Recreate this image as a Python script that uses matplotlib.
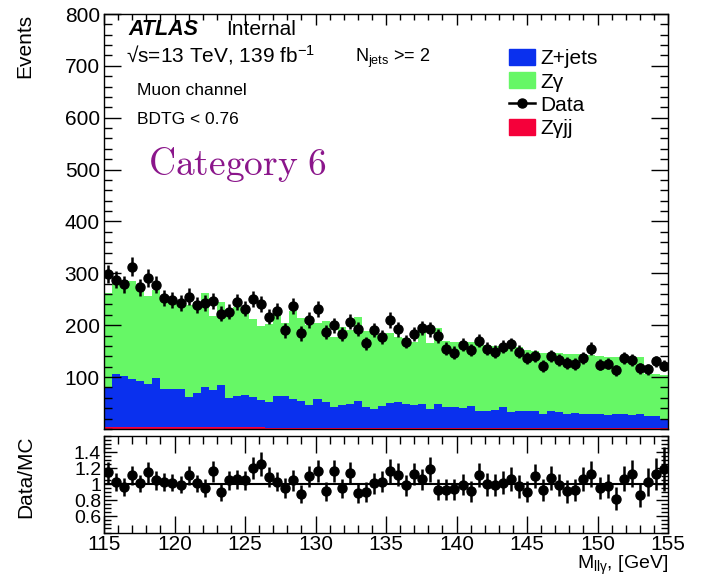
import numpy as np
import matplotlib
matplotlib.use("Agg")
import matplotlib.pyplot as plt
from matplotlib.ticker import MultipleLocator, FixedLocator, FixedFormatter
from matplotlib.patches import Patch
from matplotlib.lines import Line2D

plt.rcParams['font.family'] = ['Liberation Sans', 'DejaVu Sans']
plt.rcParams['mathtext.fontset'] = 'custom'
plt.rcParams['mathtext.rm'] = 'Liberation Sans'
plt.rcParams['mathtext.it'] = 'Liberation Sans:italic'
plt.rcParams['mathtext.bf'] = 'Liberation Sans:bold'

# ---------------- data ----------------
x_min, x_max, n_bins = 115.0, 155.0, 70

data = [298, 288, 279, 313, 273, 291, 278, 252, 249, 242,
        255, 239, 243, 247, 222, 226, 245, 232, 250, 240,
        216, 227, 190, 237, 184, 210, 231, 187, 200, 183,
        207, 193, 165, 191, 177, 210, 192, 168, 183, 195,
        192, 179, 155, 147, 162, 152, 170, 155, 149, 158,
        163, 149, 137, 141, 121, 141, 132, 127, 125, 136,
        155, 124, 126, 113, 137, 132, 117, 115, 130, 122]

total_mc = [262, 283, 288, 285, 278, 257, 268, 250, 248, 247,
            238, 245, 262, 218, 245, 222, 235, 228, 212, 198,
            203, 222, 205, 228, 214, 200, 204, 208, 177, 196,
            190, 215, 188, 192, 180, 184, 178, 176, 168, 192,
            166, 194, 170, 168, 168, 168, 165, 162, 160, 160,
            160, 158, 153, 150, 147, 147, 146, 144, 144, 144,
            142, 140, 139, 139, 139, 139, 138, 105, 105, 103]

zjets = [75, 102, 99, 94, 89, 83, 96, 74, 74, 74,
         58, 67, 77, 72, 81, 57, 61, 63, 59, 52,
         49, 61, 61, 56, 52, 43, 56, 49, 40, 43,
         46, 52, 40, 35, 42, 48, 49, 46, 44, 46,
         36, 46, 40, 40, 38, 42, 33, 33, 34, 41,
         30, 33, 32, 32, 27, 33, 30, 27, 28, 26,
         27, 26, 25, 27, 27, 25, 27, 22, 22, 17]

zgjj = [3, 3, 3, 3, 3, 3, 3, 3, 3, 3,
        3, 3, 3, 3, 3, 3, 3, 3, 3, 3,
        2.5, 2.5, 2.5, 2.5, 2.5, 2.5, 2.5, 2.5, 2.5, 2.5,
        2.5, 2.5, 2.5, 2.5, 2.5, 2.5, 2.5, 2.5, 2.5, 2.5,
        2, 2, 2, 2, 2, 2, 2, 2, 2, 2,
        2, 2, 2, 2, 2, 2, 2, 2, 2, 2,
        2, 2, 2, 2, 2, 2, 2, 2, 2, 2]

ratio = [1.15, 1.03, 0.97, 1.11, 1.01, 1.15, 1.05, 1.03, 1.02, 0.995,
         1.11, 1.01, 0.95, 1.16, 0.905, 1.05, 1.06, 1.05, 1.20, 1.25,
         1.09, 1.03, 0.955, 1.05, 0.876, 1.10, 1.165, 0.91, 1.165, 0.95,
         1.14, 0.89, 0.905, 1.01, 1.03, 1.16, 1.12, 0.99, 1.13, 1.06,
         1.185, 0.93, 0.93, 0.94, 0.995, 0.91, 1.12, 1.00, 0.99, 1.02,
         1.06, 0.975, 0.905, 1.10, 0.93, 1.08, 0.99, 0.91, 0.93, 1.07,
         1.13, 0.955, 0.975, 0.82, 1.07, 1.13, 0.867, 1.03, 1.13, 1.19]

ratio_err = [0.13, 0.11, 0.11, 0.12, 0.11, 0.13, 0.12, 0.11, 0.11, 0.11,
             0.12, 0.11, 0.11, 0.13, 0.11, 0.12, 0.12, 0.12, 0.14, 0.15,
             0.13, 0.12, 0.12, 0.13, 0.11, 0.13, 0.14, 0.12, 0.14, 0.12,
             0.14, 0.12, 0.12, 0.13, 0.13, 0.15, 0.14, 0.13, 0.14, 0.13,
             0.16, 0.13, 0.13, 0.13, 0.13, 0.13, 0.15, 0.14, 0.14, 0.14,
             0.15, 0.14, 0.13, 0.15, 0.14, 0.15, 0.14, 0.14, 0.14, 0.15,
             0.16, 0.14, 0.15, 0.14, 0.16, 0.17, 0.15, 0.17, 0.20, 0.27]

legend_labels = ['Z+jets', 'Zγ', 'Data', 'Zγjj']
x_ticks = [115, 120, 125, 130, 135, 140, 145, 150, 155]
y_ticks = [100, 200, 300, 400, 500, 600, 700, 800]
r_ticks = [0.6, 0.8, 1.0, 1.2, 1.4]
r_labels = ['0.6', '0.8', '1', '1.2', '1.4']

# ---------------- styling ----------------
c_blue = '#0a30ee'
c_green = '#66f766'
c_red = '#f5003a'
c_purple = '#8b168b'

data = np.array(data, float)
total_mc = np.array(total_mc, float)
zjets = np.array(zjets, float)
zgjj = np.array(zgjj, float)
ratio = np.array(ratio, float)
ratio_err = np.array(ratio_err, float)

edges = np.linspace(x_min, x_max, n_bins + 1)
centers = 0.5 * (edges[:-1] + edges[1:])

W, H = 713, 579
fig = plt.figure(figsize=(W / 100, H / 100), dpi=100)
ax = fig.add_axes([104 / W, 1 - 428.9 / H, 564 / W, 414.9 / H])
ax2 = fig.add_axes([104 / W, 1 - 532.5 / H, 564 / W, 96.5 / H])

# stacked histograms
lvl1 = zgjj
lvl2 = zgjj + zjets
ax.stairs(lvl1, edges, baseline=0, fill=True, color=c_red, lw=0)
ax.stairs(lvl2, edges, baseline=lvl1, fill=True, color=c_blue, lw=0)
ax.stairs(total_mc, edges, baseline=lvl2, fill=True, color=c_green, lw=0)

ax.errorbar(centers, data, yerr=np.sqrt(data), fmt='o', color='black',
            ms=6.5, elinewidth=1.8, capsize=0, zorder=5)

ax.set_xlim(x_min, x_max)
ax.set_ylim(0, 800)
ax.yaxis.set_major_locator(FixedLocator(y_ticks))
ax.yaxis.set_minor_locator(MultipleLocator(20))
ax.xaxis.set_major_locator(FixedLocator(x_ticks))
ax.xaxis.set_minor_locator(MultipleLocator(1))
ax.tick_params(which='both', direction='in', top=True, right=True,
               bottom=False, labelbottom=False, width=1)
ax.tick_params(axis='y', which='major', length=12, labelsize=15, pad=3)
ax.tick_params(axis='y', which='minor', length=6)
ax.tick_params(axis='x', which='major', length=8)
ax.tick_params(axis='x', which='minor', length=4)
for s in ax.spines.values():
    s.set_linewidth(1.0)

ax.set_ylabel('Events', fontsize=15, loc='top')
ax.yaxis.set_label_coords(-0.124, 1.0)

# annotations
def axc(px, py):
    return ((px - 104) / 564, (428.9 - py) / 414.9)

ax.text(*axc(128, 35), 'ATLAS', fontsize=15.5, fontweight='bold',
        fontstyle='italic', transform=ax.transAxes, va='baseline')
ax.text(*axc(226, 35), 'Internal', fontsize=15,
        transform=ax.transAxes, va='baseline')
ax.text(*axc(126, 62), '√s=13 TeV, 139 fb$^{\\mathregular{-1}}$',
        fontsize=15, transform=ax.transAxes, va='baseline')
ax.text(*axc(355, 62), r'N$_{\mathregular{jets}}$ >= 2', fontsize=13,
        transform=ax.transAxes, va='baseline')
ax.text(*axc(137, 95), 'Muon channel', fontsize=12.5,
        transform=ax.transAxes, va='baseline')
ax.text(*axc(137, 124), 'BDTG < 0.76', fontsize=12.5,
        transform=ax.transAxes, va='baseline')
ax.text(*axc(148, 175), r'$\mathrm{Category\ 6}$', fontsize=27,
        color=c_purple, transform=ax.transAxes, va='baseline',
        math_fontfamily='cm')

handles = [Patch(facecolor=c_blue, edgecolor=c_blue),
           Patch(facecolor=c_green, edgecolor=c_green),
           Line2D([], [], color='black', marker='o', ms=6.5, lw=1.8),
           Patch(facecolor=c_red, edgecolor=c_red)]
ax.legend(handles, legend_labels, loc='upper left',
          bbox_to_anchor=axc(509, 49), frameon=False, fontsize=15,
          handlelength=1.25, handleheight=0.8, handletextpad=0.25,
          labelspacing=0.2, borderpad=0, borderaxespad=0)

# ratio panel
ax2.axhline(1.0, color='black', lw=1.5, zorder=2)
ax2.errorbar(centers, ratio, yerr=ratio_err, fmt='o', color='black',
             ms=6.5, elinewidth=1.8, capsize=0, zorder=5)
ax2.set_xlim(x_min, x_max)
ax2.set_ylim(0.4, 1.6)
ax2.yaxis.set_major_locator(FixedLocator(r_ticks))
ax2.yaxis.set_major_formatter(FixedFormatter(r_labels))
ax2.yaxis.set_minor_locator(MultipleLocator(0.05))
ax2.xaxis.set_major_locator(FixedLocator(x_ticks))
ax2.xaxis.set_minor_locator(MultipleLocator(1))
ax2.tick_params(which='both', direction='in', top=True, right=True, width=1)
ax2.tick_params(axis='x', which='major', length=12, labelsize=15, pad=2)
ax2.tick_params(axis='x', which='minor', length=6)
ax2.tick_params(axis='y', which='major', length=9, labelsize=14, pad=2)
ax2.tick_params(axis='y', which='minor', length=5)
for s in ax2.spines.values():
    s.set_linewidth(1.0)
ax2.set_ylabel('Data/MC', fontsize=15, loc='top')
ax2.yaxis.set_label_coords(-0.122, 1.0)
ax2.set_xlabel(r'M$_{\mathregular{ll\gamma}}$, [GeV]', fontsize=14, loc='right',
               labelpad=0)

fig.savefig('out.png', dpi=100)
